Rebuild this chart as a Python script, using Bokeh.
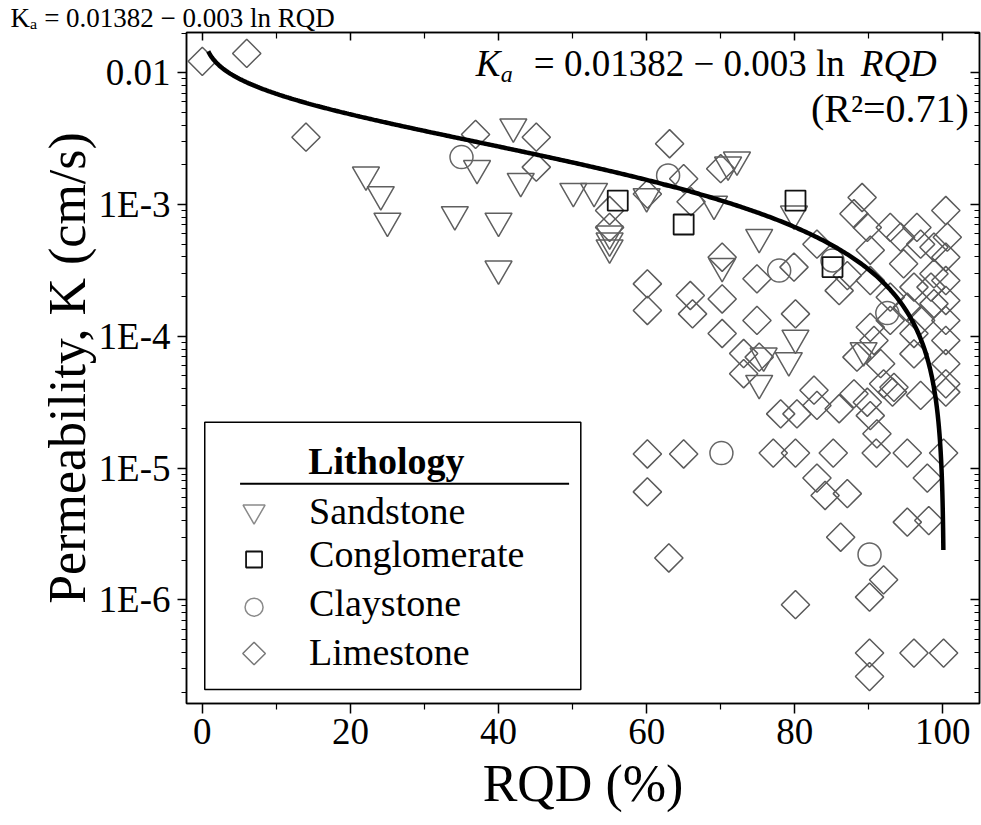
import numpy as np
from bokeh.plotting import figure
from bokeh.models import (Range1d, FixedTicker, LinearAxis, LogAxis, Label,
                          BoxAnnotation, CustomJSTickFormatter)
from bokeh.embed import file_html
from bokeh.resources import INLINE

# ---------------- data ----------------
sandstone_rqd = [22.1, 24.1, 25.0, 34.1, 37.1, 40.0, 40.0, 42.0, 43.0, 50.1,
                 52.9, 55.0, 55.0, 55.0, 60.0, 69.1, 72.2, 71.0, 79.9, 75.2,
                 70.2, 80.1, 79.2, 75.8, 75.2, 89.3]
sandstone_k = [1.68e-3, 1.19e-3, 7.5e-4, 8.4e-4, 1.88e-3, 7.5e-4, 3.25e-4, 3.89e-3, 1.5e-3, 1.26e-3,
               1.26e-3, 6.0e-4, 5.3e-4, 4.7e-4, 1.15e-3, 1.01e-3, 2.18e-3, 2.0e-3, 8.5e-4, 5.65e-4,
               3.4e-4, 9.7e-5, 6.55e-5, 7.1e-5, 4.4e-5, 7.8e-5]

conglomerate_rqd = [56.1, 65.0, 80.1, 85.1]
conglomerate_k = [1.07e-3, 7.05e-4, 1.07e-3, 3.35e-4]

claystone_rqd = [35.0, 62.9, 85.1, 77.9, 70.1, 90.1, 92.5]
claystone_k = [2.29e-3, 1.66e-3, 3.76e-4, 3.15e-4, 1.3e-5, 2.21e-6, 1.5e-4]

limestone_rqd = [0.0, 6.0, 14.0, 36.9, 45.1, 45.1, 63.1, 55.0, 55.0, 60.1,
                 65.0, 66.0, 70.0, 89.1, 88.0, 89.8, 92.9, 96.5, 100.4, 100.6,
                 98.8, 97.0, 94.3, 90.2, 100.4, 98.8, 94.7, 100.4, 96.1, 100.4,
                 92.9, 95.2, 100.4, 100.4, 100.4, 100.4, 97.0, 96.1, 93.4, 90.2,
                 90.7, 88.4, 91.6, 92.0, 83.0, 87.1, 86.0, 90.2, 79.9, 74.9,
                 70.2, 60.1, 60.1, 65.9, 70.2, 66.2, 70.2, 74.9, 80.1, 75.2,
                 73.1, 73.1, 82.6, 88.0, 93.2, 97.0, 100.4, 78.1, 80.3, 83.0,
                 86.0, 89.8, 90.2, 91.1, 60.1, 65.0, 77.1, 80.1, 85.2, 91.0,
                 95.2, 100.1, 83.0, 84.1, 87.1, 97.9, 60.1, 95.2, 98.1, 86.2,
                 63.0, 92.0, 90.1, 80.1, 90.1, 90.1, 96.1, 100.1, 98.4, 98.8,
                 92.9, 96.1]
limestone_k = [1.22e-2, 1.40e-2, 3.24e-3, 3.40e-3, 3.24e-3, 1.92e-3, 2.89e-3, 9.0e-4, 6.7e-4, 1.2e-3,
               1.57e-3, 1.05e-3, 1.87e-3, 1.13e-3, 8.5e-4, 6.7e-4, 6.7e-4, 6.7e-4, 9.0e-4, 5.65e-4,
               4.74e-4, 5.0e-4, 5.65e-4, 4.5e-4, 3.98e-4, 2.98e-4, 3.55e-4, 2.65e-4, 2.36e-4, 1.87e-4,
               1.98e-4, 1.66e-4, 1.32e-4, 9.3e-5, 6.2e-5, 4.36e-5, 1.32e-4, 7.36e-5, 4.1e-5, 1.17e-4,
               9.3e-5, 6.95e-5, 6.2e-5, 4.36e-5, 5.0e-4, 2.89e-4, 2.22e-4, 2.65e-4, 3.35e-4, 2.73e-4,
               3.98e-4, 2.5e-4, 1.57e-4, 2.04e-4, 1.92e-4, 1.48e-4, 1.05e-4, 1.32e-4, 1.48e-4, 6.95e-5,
               7.4e-5, 5.2e-5, 3.9e-5, 3.66e-5, 3.77e-5, 3.56e-5, 3.77e-5, 2.58e-5, 2.58e-5, 2.99e-5,
               2.82e-5, 3.16e-5, 2.5e-5, 1.82e-5, 1.28e-5, 1.28e-5, 1.3e-5, 1.3e-5, 1.3e-5, 1.3e-5,
               1.3e-5, 1.3e-5, 8.4e-6, 6.2e-6, 6.4e-6, 8.4e-6, 6.6e-6, 3.89e-6, 4.0e-6, 2.99e-6,
               2.08e-6, 1.42e-6, 1.05e-6, 9.2e-7, 3.95e-7, 2.62e-7, 3.95e-7, 3.95e-7, 2.36e-4, 1.77e-4,
               1.32e-4, 1.05e-4]

# fitted curve  K = a - b ln(RQD)
fit_a = 0.01382
fit_b = 0.003
fit_rqd_start = 0.8
fit_rqd_end = 100.07

legend_names = ["Sandstone", "Conglomerate", "Claystone", "Limestone"]
x_tick_values = [0, 20, 40, 60, 80, 100]
x_minor_values = [10, 30, 50, 70, 90]
y_tick_values = [1e-6, 1e-5, 1e-4, 1e-3, 1e-2]
y_tick_labels = ["1E-6", "1E-5", "1E-4", "1E-3", "0.01"]
y_minor_values = [m * 10.0 ** e for e in range(-7, -1) for m in range(2, 10)]

eq_mid = "= %.5f \u2212 %.3f ln" % (fit_a, fit_b)

# ---------------- figure ----------------
FONT = "Liberation Serif"
p = figure(width=981, height=825, output_backend="svg", toolbar_location=None,
           x_range=Range1d(-2.134, 104.95), y_range=Range1d(1.637e-7, 0.02018),
           y_axis_type="log",
           min_border_left=186, min_border_right=2, min_border_top=32, min_border_bottom=122)
p.background_fill_color = "white"
p.border_fill_color = "white"
p.xgrid.visible = False
p.ygrid.visible = False
p.outline_line_color = "black"
p.outline_line_width = 1.5

# small copy of the equation above the top-left corner
p.title.text = "K\u2090 " + eq_mid + " RQD"
p.title.text_font = FONT
p.title.text_font_size = "27px"
p.title.text_font_style = "normal"
p.title.text_color = "black"
p.title.align = "left"
p.title.offset = -176
p.title.standoff = 0

blank_fmt = CustomJSTickFormatter(code='return "";')


def style_axis(ax, t_in, t_out, m_in, m_out, show_labels):
    ax.axis_line_color = "black"
    ax.axis_line_width = 1.5
    ax.major_tick_line_color = "black"
    ax.major_tick_line_width = 1.5
    ax.minor_tick_line_color = "black"
    ax.minor_tick_line_width = 1.2
    ax.major_tick_in = t_in
    ax.major_tick_out = t_out
    ax.minor_tick_in = m_in
    ax.minor_tick_out = m_out
    if show_labels:
        ax.major_label_text_font = FONT
        ax.major_label_text_font_size = "37px"
        ax.major_label_text_color = "black"
        ax.axis_label_text_font = FONT
        ax.axis_label_text_font_size = "52px"
        ax.axis_label_text_font_style = "normal"
        ax.axis_label_text_color = "black"
    else:
        ax.formatter = blank_fmt
        ax.major_label_text_font_size = "1px"
        ax.major_label_text_alpha = 0
        ax.major_label_standoff = 0


xticker = FixedTicker(ticks=x_tick_values, minor_ticks=x_minor_values)
yticker = FixedTicker(ticks=y_tick_values, minor_ticks=y_minor_values)
yfmt = CustomJSTickFormatter(args=dict(vals=y_tick_values, labels=y_tick_labels), code="""
const lt = Math.log10(tick);
for (let i = 0; i < vals.length; i++) {
  if (Math.abs(Math.log10(vals[i]) - lt) < 1e-6) { return labels[i]; }
}
return "";
""")

xa = p.xaxis[0]
xa.ticker = xticker
xa.axis_label = "RQD (%)"
style_axis(xa, 0, 10, 0, 6, True)
xa.major_label_standoff = 5
xa.axis_label_standoff = 8

ya = p.yaxis[0]
ya.ticker = yticker
ya.formatter = yfmt
ya.axis_label = "Permeability, K (cm/s)"
style_axis(ya, 0, 9, 0, 5, True)
ya.major_label_standoff = 7
ya.axis_label_standoff = 0

top = LinearAxis(ticker=FixedTicker(ticks=x_tick_values, minor_ticks=x_minor_values))
style_axis(top, 8, 0, 6, 0, False)
p.add_layout(top, "above")
right = LogAxis(ticker=FixedTicker(ticks=y_tick_values, minor_ticks=y_minor_values))
style_axis(right, 9, 0, 5, 0, False)
p.add_layout(right, "right")

# ---------------- data marks ----------------
p.scatter(limestone_rqd, limestone_k, marker="square", angle=np.pi / 4, size=20,
          fill_color=None, line_color="#5a5a5a", line_width=1.5)
p.scatter(sandstone_rqd, sandstone_k, marker="inverted_triangle", size=27,
          fill_color=None, line_color="#5f5f5f", line_width=1.5)
p.scatter(claystone_rqd, claystone_k, marker="circle", size=23,
          fill_color=None, line_color="#666666", line_width=1.5)
p.scatter(conglomerate_rqd, conglomerate_k, marker="square", size=20,
          fill_color=None, line_color="#111111", line_width=1.8)

fit_x = np.concatenate([np.linspace(fit_rqd_start, 99.0, 400),
                        np.linspace(99.0, fit_rqd_end, 200)])
fit_k = fit_a - fit_b * np.log(fit_x)
p.line(fit_x, fit_k, line_color="black", line_width=4.5)


# ---------------- texts ----------------
def lab(x, y, text, size, style="normal", align="left"):
    p.add_layout(Label(x=x, y=y, text=text, text_font=FONT, text_font_size=size,
                       text_font_style=style, text_align=align,
                       text_baseline="middle", text_color="black"))


# equation inside the plot (top right)
lab(36.93, 1.174e-2, "K", "37px", "italic")
lab(40.30, 9.69e-3, "a", "24px", "italic")
lab(44.76, 1.174e-2, eq_mid, "37px")
lab(88.92, 1.174e-2, "RQD", "37px", "italic")
lab(103.5, 5.352e-3, "(R\u00b2=0.71)", "40px", "normal", "right")

# ---------------- legend ----------------
p.add_layout(BoxAnnotation(left=0.33, right=51.11, bottom=2.09e-7, top=2.23e-5,
                           fill_alpha=0, line_color="black", line_alpha=1.0, line_width=1.5))
lab(14.3, 1.142e-5, "Lithology", "38px", "bold")
p.segment(x0=[5.10], y0=[7.6e-6], x1=[49.53], y1=[7.6e-6], line_color="black", line_width=2)
leg_text_y = [4.768e-6, 2.211e-6, 9.556e-7, 4.06e-7]
leg_mark_y = [4.69e-6, 2.025e-6, 8.8e-7, 3.92e-7]
for name, ty in zip(legend_names, leg_text_y):
    lab(14.42, ty, name, "38px")
p.scatter([6.99], [leg_mark_y[0]], marker="inverted_triangle", size=22,
          fill_color=None, line_color="#8a8a8a", line_width=1.5)
p.scatter([6.99], [leg_mark_y[1]], marker="square", size=16,
          fill_color=None, line_color="#111111", line_width=1.8)
p.scatter([6.99], [leg_mark_y[2]], marker="circle", size=18,
          fill_color=None, line_color="#8a8a8a", line_width=1.5)
p.scatter([6.99], [leg_mark_y[3]], marker="square", angle=np.pi / 4, size=16,
          fill_color=None, line_color="#777777", line_width=1.5)

open("out.html", "w").write(file_html(p, INLINE))
